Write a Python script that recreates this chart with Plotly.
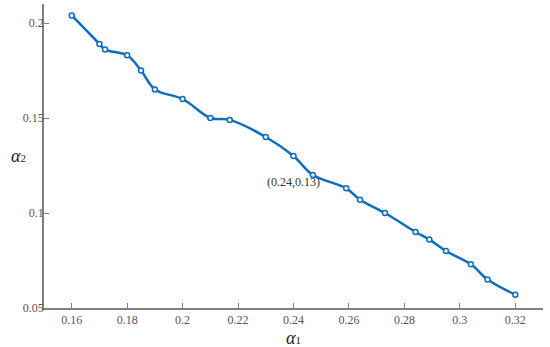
import plotly.graph_objects as go

# alpha_1 / alpha_2 pairs
alpha1 = [0.160, 0.170, 0.172, 0.180, 0.185, 0.190, 0.200, 0.210, 0.217, 0.230,
          0.240, 0.247, 0.259, 0.264, 0.273, 0.284, 0.289, 0.295, 0.304, 0.310, 0.320]
alpha2 = [0.204, 0.189, 0.186, 0.183, 0.175, 0.165, 0.160, 0.150, 0.149, 0.140,
          0.130, 0.120, 0.113, 0.107, 0.100, 0.090, 0.086, 0.080, 0.073, 0.065, 0.057]

x_ticks = [0.16, 0.18, 0.2, 0.22, 0.24, 0.26, 0.28, 0.3, 0.32]
x_labels = ["0.16", "0.18", "0.2", "0.22", "0.24", "0.26", "0.28", "0.3", "0.32"]
y_ticks = [0.05, 0.1, 0.15, 0.2]
y_labels = ["0.05", "0.1", "0.15", "0.2"]

blue = "#0A6FC2"
serif = "Liberation Serif"

fig = go.Figure()
fig.add_trace(
    go.Scatter(
        x=alpha1,
        y=alpha2,
        mode="lines+markers",
        line=dict(color=blue, width=2.5, shape="spline", smoothing=1.0),
        marker=dict(symbol="circle", size=5, color="white",
                    line=dict(color=blue, width=1.5)),
        showlegend=False,
    )
)

fig.add_annotation(
    x=0.24, y=0.13, text="(0.24,0.13)", showarrow=False, yshift=-26,
    font=dict(family=serif, size=12, color="#333333"),
)

# axis titles placed by hand, like the original
fig.add_annotation(
    xref="paper", yref="paper", x=-0.052, y=0.5, xanchor="center", yanchor="middle",
    text="<i>α</i><span style='font-size:11px'>2</span>", showarrow=False,
    font=dict(family=serif, size=18, color="#222222"),
)
fig.add_annotation(
    xref="paper", yref="paper", x=0.5, y=-0.1, xanchor="center", yanchor="middle",
    text="<i>α</i><span style='font-size:11px'>1</span>", showarrow=False,
    font=dict(family=serif, size=18, color="#222222"),
)

axis_common = dict(
    showgrid=False, zeroline=False, showline=True, linecolor="#808080",
    linewidth=1.5, ticks="inside", ticklen=5, tickcolor="#808080",
    tickfont=dict(family=serif, size=12, color="#555555"),
    automargin=False,
)

fig.update_xaxes(range=[0.15, 0.33], tickvals=x_ticks, ticktext=x_labels, **axis_common)
fig.update_yaxes(range=[0.05, 0.21], tickvals=y_ticks, ticktext=y_labels,
                 ticklabelstandoff=-4, **axis_common)

fig.update_layout(
    width=550, height=347,
    margin=dict(l=44, r=7, t=4, b=39),
    plot_bgcolor="white", paper_bgcolor="white",
)

# drop the default body margin so the figure sits at the window's corner
fig.write_html(
    "out.html",
    config={"displayModeBar": False},
    post_script="document.body.style.margin='0';",
)
